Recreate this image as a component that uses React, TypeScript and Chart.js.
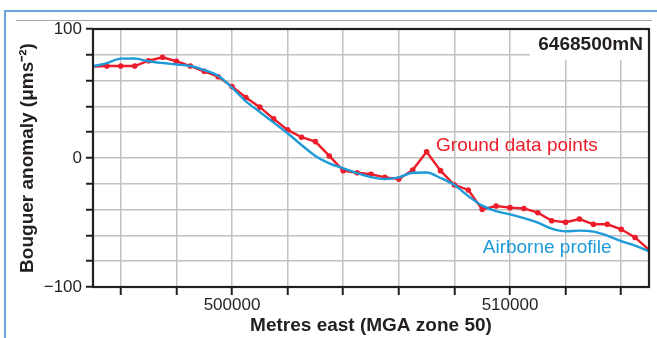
import React, { useEffect, useRef } from 'react';
import { Chart, registerables } from 'chart.js';

Chart.register(...registerables);

// ---- Data ----
const eastings = [
  495000, 495500, 496000, 496500, 497000, 497500, 498000, 498500, 499000, 499500,
  500000, 500500, 501000, 501500, 502000, 502500, 503000, 503500, 504000, 504500,
  505000, 505500, 506000, 506500, 507000, 507500, 508000, 508500, 509000, 509500,
  510000, 510500, 511000, 511500, 512000, 512500, 513000, 513500, 514000, 514500,
  515000,
];

const groundValues = [
  70.8, 71.3, 71.3, 71.3, 75.4, 78.1, 75.0, 71.3, 67.2, 63.0,
  55.4, 46.9, 39.4, 30.3, 21.8, 16.1, 12.7, 1.6, -9.8, -11.4,
  -12.6, -15.0, -16.3, -9.3, 4.9, -9.8, -20.9, -24.8, -39.8, -37.2,
  -38.5, -39.1, -42.4, -48.6, -49.8, -47.3, -51.4, -51.4, -55.3, -61.6,
  -71.3,
];

const airborneValues = [
  71.1, 73.6, 77.0, 77.1, 75.0, 73.6, 72.5, 71.3, 68.2, 63.7,
  54.6, 43.9, 35.7, 27.4, 19.2, 10.1, 1.6, -4.1, -8.0, -11.7,
  -14.8, -16.3, -15.0, -11.4, -11.2, -15.5, -21.0, -29.5, -36.9, -41.2,
  -43.7, -46.6, -50.1, -54.8, -56.9, -56.3, -57.1, -60.2, -64.5, -68.0,
  -72.3,
];

const xTickValues = [496000, 498000, 500000, 502000, 504000, 506000, 508000, 510000, 512000, 514000];
const xTickLabels = [500000, 510000];
const yTickLabels = [100, 0, -100];

const xTitle = 'Metres east (MGA zone 50)';
const yTitle = 'Bouguer anomaly (μms⁻²)';
const profileName = '6468500mN';
const groundName = 'Ground data points';
const airborneName = 'Airborne profile';

// ---- Styles ----
const RED = '#ec1c2a';
const BLUE = '#1d9ad8';
const INK = '#231f20';
const GRID = '#c2c2c2';
const FONT = '"Liberation Sans", Arial, Helvetica, sans-serif';

// annotation anchors (data coordinates)
const groundLabelPos = { x: 507340, y: 9.6 };
const airborneLabelPos = { x: 509020, y: -69.2 };
const profileLabelPos = { x: 514780, y: 87.8 };
const profileBox = { x0: 510720, x1: 515000, y0: 100, y1: 76 };

const decorPlugin = {
  id: 'decor',
  beforeDraw(chart: any) {
    const ctx = chart.ctx;
    ctx.save();
    // page frame
    ctx.strokeStyle = '#6aa6dc';
    ctx.lineWidth = 2;
    ctx.beginPath();
    ctx.moveTo(657, 11);
    ctx.lineTo(5, 11);
    ctx.lineTo(5, 338);
    ctx.stroke();
    ctx.strokeStyle = '#a8a8a8';
    ctx.lineWidth = 1;
    ctx.beginPath();
    ctx.moveTo(16, 20.5);
    ctx.lineTo(652, 20.5);
    ctx.stroke();
    ctx.restore();
  },
  beforeDatasetsDraw(chart: any) {
    const { ctx, scales } = chart;
    const x = scales.x;
    const y = scales.y;
    ctx.save();
    const bx0 = x.getPixelForValue(profileBox.x0);
    const bx1 = x.getPixelForValue(profileBox.x1);
    const by0 = y.getPixelForValue(profileBox.y0);
    const by1 = y.getPixelForValue(profileBox.y1);
    ctx.fillStyle = '#ffffff';
    ctx.fillRect(bx0, by0, bx1 - bx0, by1 - by0);
    ctx.fillStyle = INK;
    ctx.font = `bold 19px ${FONT}`;
    ctx.textAlign = 'right';
    ctx.textBaseline = 'middle';
    ctx.fillText(profileName, x.getPixelForValue(profileLabelPos.x), y.getPixelForValue(profileLabelPos.y));
    ctx.restore();
  },
  afterDatasetsDraw(chart: any) {
    const { ctx, scales, chartArea } = chart;
    const x = scales.x;
    const y = scales.y;
    ctx.save();
    ctx.font = `19px ${FONT}`;
    ctx.textAlign = 'left';
    ctx.textBaseline = 'middle';
    ctx.fillStyle = RED;
    ctx.fillText(groundName, x.getPixelForValue(groundLabelPos.x), y.getPixelForValue(groundLabelPos.y));
    ctx.fillStyle = BLUE;
    ctx.fillText(airborneName, x.getPixelForValue(airborneLabelPos.x), y.getPixelForValue(airborneLabelPos.y));
    // frame
    ctx.strokeStyle = INK;
    ctx.lineWidth = 2.2;
    ctx.strokeRect(chartArea.left, chartArea.top, chartArea.right - chartArea.left, chartArea.bottom - chartArea.top);
    ctx.restore();
  },
};

export default function App() {
  const ref = useRef<HTMLCanvasElement>(null);

  useEffect(() => {
    if (!ref.current) return;
    const chart = new Chart(ref.current, {
      type: 'line',
      data: {
        datasets: [
          {
            label: airborneName,
            data: eastings.map((e, i) => ({ x: e, y: airborneValues[i] })),
            borderColor: BLUE,
            borderWidth: 2.4,
            pointRadius: 0,
            cubicInterpolationMode: 'monotone',
            fill: false,
          },
          {
            label: groundName,
            data: eastings.map((e, i) => ({ x: e, y: groundValues[i] })),
            borderColor: RED,
            backgroundColor: RED,
            borderWidth: 2.4,
            tension: 0,
            pointRadius: (c: any) => (c.dataIndex === 0 || c.dataIndex === eastings.length - 1 ? 0 : 2.8),
            pointBorderWidth: 0,
            pointBackgroundColor: RED,
            fill: false,
          },
        ],
      },
      plugins: [decorPlugin],
      options: {
        animation: false,
        responsive: false,
        devicePixelRatio: 1,
        layout: { padding: { left: 0, top: 29, right: 8, bottom: 0 } },
        plugins: {
          legend: { display: false },
          tooltip: { enabled: false },
        },
        scales: {
          x: {
            type: 'linear',
            min: 495000,
            max: 515000,
            border: { display: false },
            grid: {
              color: GRID,
              lineWidth: 1.5,
              drawTicks: true,
              tickLength: 8,
              tickColor: INK,
              tickWidth: 2,
            },
            afterBuildTicks: (s: any) => {
              s.ticks = xTickValues.map((v) => ({ value: v }));
            },
            ticks: {
              autoSkip: false,
              maxRotation: 0,
              minRotation: 0,
              padding: 0,
              color: INK,
              font: { family: FONT, size: 17 },
              callback: (v: any) => (xTickLabels.includes(Number(v)) ? String(v) : ''),
            },
            title: {
              display: true,
              text: xTitle,
              color: INK,
              font: { family: FONT, size: 19, weight: 'bold' },
              padding: { top: 0, bottom: 1 },
            },
            afterFit: (s: any) => {
              s.height = 51;
            },
          },
          y: {
            type: 'linear',
            min: -100,
            max: 100,
            border: { display: false },
            grid: {
              color: GRID,
              lineWidth: 1.5,
              drawTicks: true,
              tickLength: 7,
              tickColor: INK,
              tickWidth: 2,
            },
            ticks: {
              stepSize: 20,
              autoSkip: false,
              padding: 4,
              color: INK,
              font: { family: FONT, size: 17 },
              callback: (v: any) => {
                const n = Number(v);
                if (!yTickLabels.includes(n)) return '';
                return n < 0 ? '\u2212' + String(Math.abs(n)) : String(n);
              },
            },
            title: {
              display: true,
              text: yTitle,
              color: INK,
              font: { family: FONT, size: 19, weight: 'bold' },
              padding: { top: 16, bottom: 0 },
            },
            afterFit: (s: any) => {
              s.width = 93;
            },
          },
        },
      } as any,
    });
    return () => chart.destroy();
  }, []);

  return (
    <div style={{ position: 'absolute', left: 0, top: 0, width: 657, height: 338, background: '#fff' }}>
      <canvas ref={ref} width={657} height={338} style={{ display: 'block', width: 657, height: 338 }} />
    </div>
  );
}
